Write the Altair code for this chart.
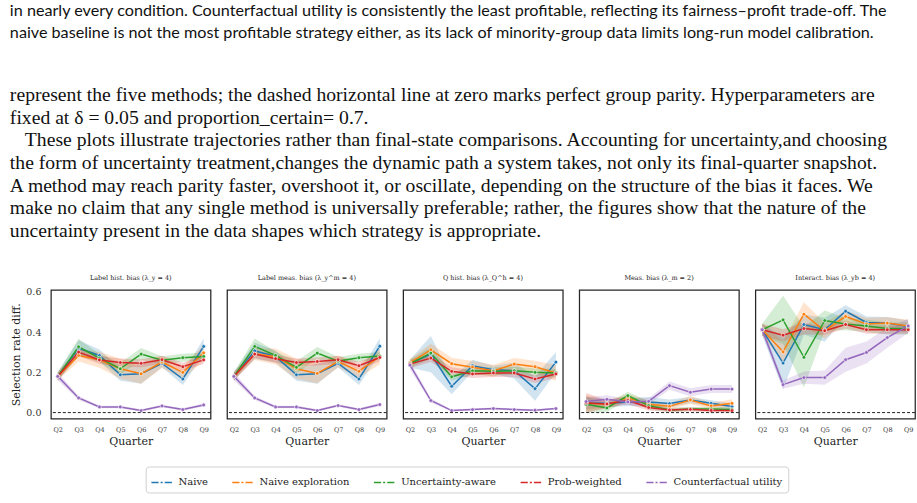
import altair as alt
import pandas as pd

panels = [
    "Label hist. bias (λ_y = 4)",
    "Label meas. bias (λ_y^m = 4)",
    "Q hist. bias (λ_Q^h = 4)",
    "Meas. bias (λ_m = 2)",
    "Interact. bias (λ_yb = 4)",
]
methods = ["Naive", "Naive exploration", "Uncertainty-aware", "Prob-weighted", "Counterfactual utility"]
colors = ["#1f77b4", "#ff7f0e", "#2ca02c", "#d62728", "#9467bd"]
quarters = ["Q2", "Q3", "Q4", "Q5", "Q6", "Q7", "Q8", "Q9"]

# mean selection-rate difference, one list per method (order as `methods`)
p1_mean = [
    [0.180, 0.320, 0.284, 0.188, 0.193, 0.245, 0.167, 0.329],
    [0.180, 0.284, 0.263, 0.218, 0.193, 0.251, 0.200, 0.297],
    [0.180, 0.327, 0.271, 0.218, 0.291, 0.260, 0.273, 0.279],
    [0.180, 0.301, 0.262, 0.249, 0.245, 0.263, 0.228, 0.262],
    [0.180, 0.073, 0.028, 0.028, 0.010, 0.033, 0.015, 0.038],
]
p1_err = [
    [0.02, 0.04, 0.03, 0.03, 0.05, 0.02, 0.03, 0.04],
    [0.02, 0.03, 0.04, 0.05, 0.05, 0.03, 0.03, 0.04],
    [0.02, 0.04, 0.02, 0.03, 0.03, 0.02, 0.02, 0.02],
    [0.02, 0.02, 0.02, 0.02, 0.02, 0.02, 0.02, 0.02],
    [0.02, 0.01, 0.006, 0.006, 0.006, 0.006, 0.006, 0.008],
]
p2_mean = [
    [0.180, 0.307, 0.279, 0.188, 0.193, 0.245, 0.167, 0.330],
    [0.180, 0.291, 0.279, 0.218, 0.195, 0.254, 0.205, 0.279],
    [0.180, 0.329, 0.284, 0.225, 0.296, 0.256, 0.273, 0.281],
    [0.180, 0.291, 0.268, 0.249, 0.254, 0.263, 0.233, 0.274],
    [0.180, 0.073, 0.028, 0.028, 0.010, 0.035, 0.015, 0.040],
]
p2_err = [
    [0.02, 0.04, 0.03, 0.03, 0.05, 0.02, 0.03, 0.04],
    [0.02, 0.03, 0.04, 0.05, 0.05, 0.03, 0.03, 0.04],
    [0.02, 0.04, 0.02, 0.03, 0.03, 0.02, 0.02, 0.02],
    [0.02, 0.02, 0.02, 0.02, 0.02, 0.02, 0.02, 0.02],
    [0.02, 0.01, 0.006, 0.006, 0.006, 0.006, 0.006, 0.008],
]
p3_mean = [
    [0.243, 0.291, 0.131, 0.233, 0.213, 0.208, 0.119, 0.251],
    [0.248, 0.312, 0.243, 0.226, 0.208, 0.241, 0.228, 0.197],
    [0.243, 0.296, 0.178, 0.208, 0.205, 0.208, 0.200, 0.197],
    [0.241, 0.271, 0.205, 0.192, 0.197, 0.197, 0.167, 0.192],
    [0.236, 0.060, 0.010, 0.015, 0.020, 0.015, 0.012, 0.020],
]
p3_err = [
    [0.02, 0.09, 0.04, 0.03, 0.02, 0.04, 0.06, 0.05],
    [0.02, 0.03, 0.03, 0.03, 0.03, 0.03, 0.03, 0.04],
    [0.02, 0.03, 0.02, 0.02, 0.02, 0.02, 0.02, 0.02],
    [0.02, 0.02, 0.02, 0.02, 0.02, 0.02, 0.02, 0.02],
    [0.02, 0.01, 0.005, 0.005, 0.005, 0.005, 0.005, 0.005],
]
p4_mean = [
    [0.048, 0.046, 0.053, 0.053, 0.045, 0.063, 0.046, 0.030],
    [0.048, 0.041, 0.073, 0.041, 0.031, 0.063, 0.033, 0.046],
    [0.041, 0.023, 0.084, 0.035, 0.013, 0.018, 0.018, 0.015],
    [0.048, 0.043, 0.061, 0.025, 0.013, 0.016, 0.011, 0.010],
    [0.055, 0.066, 0.053, 0.056, 0.134, 0.101, 0.117, 0.117],
]
p4_err = [
    [0.03, 0.02, 0.02, 0.025, 0.02, 0.015, 0.015, 0.015],
    [0.04, 0.02, 0.02, 0.02, 0.015, 0.02, 0.015, 0.02],
    [0.04, 0.02, 0.02, 0.02, 0.01, 0.01, 0.01, 0.01],
    [0.05, 0.02, 0.02, 0.015, 0.01, 0.01, 0.01, 0.01],
    [0.02, 0.02, 0.015, 0.015, 0.02, 0.02, 0.02, 0.02],
]
p5_mean = [
    [0.412, 0.246, 0.438, 0.412, 0.504, 0.448, 0.445, 0.428],
    [0.412, 0.302, 0.489, 0.407, 0.478, 0.440, 0.445, 0.431],
    [0.412, 0.461, 0.275, 0.458, 0.440, 0.431, 0.418, 0.418],
    [0.412, 0.385, 0.418, 0.407, 0.438, 0.412, 0.412, 0.412],
    [0.412, 0.139, 0.174, 0.174, 0.263, 0.299, 0.373, 0.431],
]
p5_err = [
    [0.03, 0.13, 0.05, 0.06, 0.03, 0.03, 0.03, 0.03],
    [0.03, 0.05, 0.06, 0.04, 0.03, 0.03, 0.03, 0.03],
    [0.03, 0.12, 0.15, 0.05, 0.03, 0.03, 0.03, 0.03],
    [0.03, 0.03, 0.03, 0.02, 0.02, 0.02, 0.02, 0.02],
    [0.02, 0.02, 0.03, 0.035, 0.06, 0.055, 0.05, 0.035],
]

text_top = [
    "in nearly every condition. Counterfactual utility is consistently the least profitable, reflecting its fairness–profit trade-off. The",
    "naive baseline is not the most profitable strategy either, as its lack of minority-group data limits long-run model calibration.",
]
text_body = [
    "represent the five methods; the dashed horizontal line at zero marks perfect group parity. Hyperparameters are",
    "fixed at δ = 0.05 and proportion_certain= 0.7.",
    "\u2800These plots illustrate trajectories rather than final-state comparisons. Accounting for uncertainty,and choosing",
    "the form of uncertainty treatment,changes the dynamic path a system takes, not only its final-quarter snapshot.",
    "A method may reach parity faster, overshoot it, or oscillate, depending on the structure of the bias it faces. We",
    "make no claim that any single method is universally preferable; rather, the figures show that the nature of the",
    "uncertainty present in the data shapes which strategy is appropriate.",
]

all_means = [p1_mean, p2_mean, p3_mean, p4_mean, p5_mean]
all_errs = [p1_err, p2_err, p3_err, p4_err, p5_err]
rows = []
for pi, panel in enumerate(panels):
    for mi, m in enumerate(methods):
        for qi, q in enumerate(quarters):
            v = all_means[pi][mi][qi]
            e = all_errs[pi][mi][qi]
            rows.append({"panel": panel, "method": m, "quarter": q,
                         "value": v, "lo": v - e, "hi": v + e, "order": mi})
df = pd.DataFrame(rows)

serif = "DejaVu Serif"
color_scale = alt.Scale(domain=methods, range=colors)
legend = alt.Legend(orient="none", direction="horizontal", columns=5,
                    legendX=95, legendY=177, title=None,
                    symbolType="M-1,0H-0.3M-0.1,0H0.1M0.3,0H1",
                    symbolSize=420, symbolStrokeWidth=1.4, symbolOpacity=1,
                    labelFont=serif, labelFontSize=10, labelColor="#222",
                    columnPadding=20, labelOffset=6,
                    strokeColor="#d0d0d0", cornerRadius=3, padding=5,
                    fillColor="white")
color_enc = alt.Color("method:N", scale=color_scale, title=None, sort=methods, legend=legend)

x_enc = alt.X("quarter:N", sort=quarters, scale=alt.Scale(type="point", padding=0.33),
              axis=alt.Axis(title="Quarter", labelFontSize=6.5, labelFont=serif, labelAngle=0,
                            ticks=False, domain=False, labelPadding=7, titleFont=serif,
                            titleFontSize=11, titleFontWeight="normal", titlePadding=2,
                            labelColor="#333", titleColor="#222"))
y_scale = alt.Scale(domain=[-0.03, 0.61], nice=False, zero=False)
y_axis = alt.Axis(title="Selection rate diff.", values=[0.0, 0.2, 0.4, 0.6], format=".1f",
                  ticks=False, domain=False, grid=False, labelFont=serif, labelFontSize=9.5,
                  labelPadding=8, titleFont=serif, titleFontSize=11, titleFontWeight="normal",
                  titlePadding=4, labelColor="#333", titleColor="#222")

band = alt.Chart().mark_area(opacity=0.2, interpolate="linear").encode(
    x=x_enc,
    y=alt.Y("lo:Q", scale=y_scale, axis=y_axis),
    y2="hi:Q",
    color=color_enc,
    detail="method:N",
)
line = alt.Chart().mark_line(strokeWidth=1.5).encode(
    x=x_enc,
    y=alt.Y("value:Q", scale=y_scale, axis=y_axis),
    color=color_enc,
    order="order:Q",
)
pts = alt.Chart().mark_circle(size=14, opacity=1, stroke="white", strokeWidth=0.6).encode(
    x=x_enc,
    y=alt.Y("value:Q", scale=y_scale, axis=y_axis),
    color=color_enc,
)
zero = alt.Chart().mark_rule(strokeDash=[3, 2], strokeWidth=1, color="#222").encode(
    y=alt.datum(0.0)
).transform_filter(
    (alt.datum.method == "Naive") & (alt.datum.quarter == "Q2")
)

chart = alt.layer(band, line, pts, zero, data=df).properties(
    width=160, height=129
).facet(
    column=alt.Column("panel:N", sort=panels,
                      header=alt.Header(title=None, labelFont=serif, labelFontSize=6.5,
                                        labelColor="#222", labelPadding=7)),
    spacing=12.5,
).properties(
    title=alt.TitleParams(text=text_top, subtitle=text_body, anchor="start", frame="bounds",
                          font="Lato", fontSize=16.2, fontWeight="normal", color="#111",
                          lineHeight=21.5, subtitleFont="Liberation Serif",
                          subtitleFontSize=19.7, subtitleColor="#111",
                          subtitleLineHeight=22.7, subtitlePadding=44, offset=35, dx=-1),
    padding={"left": 9, "top": 2, "right": 0, "bottom": 0},
).configure_view(
    stroke="#262626", strokeWidth=1.25
).configure_axis(grid=False)

chart.save("out.html", embed_options={"renderer": "svg", "actions": False})
